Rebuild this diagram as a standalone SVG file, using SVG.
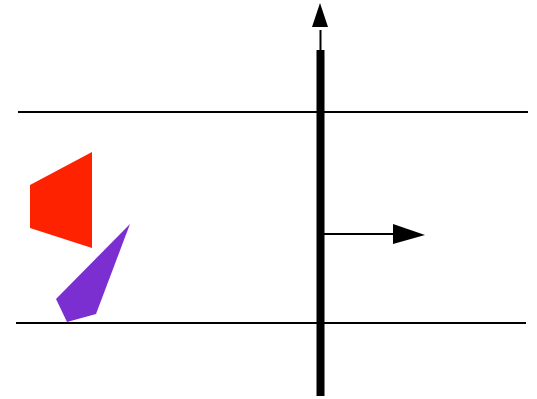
<svg xmlns="http://www.w3.org/2000/svg" width="537" height="399" viewBox="0 0 537 399">
<style>
.thin{stroke:#000;stroke-width:2;fill:none}
.head{fill:#000}
</style>
<rect width="537" height="399" fill="#fff"/>
<g id="connectors">
<line class="thin" x1="18" y1="112" x2="528" y2="112"/>
<line class="thin" x1="16" y1="323" x2="526" y2="323"/>
<line x1="320.5" y1="50" x2="320.5" y2="396" stroke="#000" stroke-width="8"/>
<line class="thin" x1="320.5" y1="30" x2="320.5" y2="52" stroke-width="2.5"/>
<polygon class="head" points="320,3 328,27 312,27"/>
<line class="thin" x1="324" y1="234" x2="395" y2="234"/>
<polygon class="head" points="393,224 425,235 393,244"/>
</g>
<g id="red">
<polygon points="30,185 92,152 92,248 30,228" fill="#ff2200"/>
</g>
<g id="purple">
<polygon points="130,224 56,299 67,322 96,314" fill="#7b2fd0"/>
</g>
</svg>
